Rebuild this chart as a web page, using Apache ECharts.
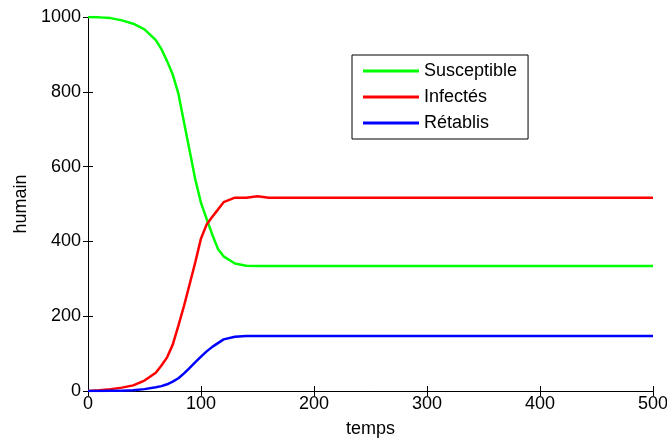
<!DOCTYPE html>
<html>
<head>
<meta charset="utf-8">
<script src="https://cdn.jsdelivr.net/npm/echarts@6/dist/echarts.min.js"></script>
<style>
  html, body { margin: 0; padding: 0; background: #fff; }
  #chart { width: 667px; height: 442px; }
</style>
</head>
<body>
<div id="chart"></div>
<script>
// temps (x) et valeurs
const temps = [0, 10, 20, 30, 40, 50, 60, 65, 70, 75, 80, 85, 90, 95, 100, 105, 110, 115, 120, 130, 140, 150, 160, 500];
const susceptible = [1000, 999, 997, 991, 982, 967, 938, 914, 882, 846, 795, 718, 642, 565, 503, 460, 418, 380, 360, 341, 335, 334, 334, 334];
const infectes = [0, 2, 5, 9, 15, 28, 49, 68, 90, 124, 175, 228, 286, 345, 408, 445, 466, 485, 505, 517, 517, 521, 517, 517];
const retablis = [0, 0, 1, 1, 2, 5, 10, 13, 18, 25, 34, 47, 62, 77, 92, 106, 118, 128, 138, 145, 147, 147, 147, 147];
const xTicks = [0, 100, 200, 300, 400, 500];
const yTicks = [0, 200, 400, 600, 800, 1000];

const font = 'Liberation Sans, Arial, Helvetica, sans-serif';
const pairs = vals => temps.map((t, i) => [t, vals[i]]);

function axisBase(extra) {
    return Object.assign({
        type: 'value',
        axisLine: {show: true, lineStyle: {color: '#000', width: 1}},
        axisTick: {show: true, inside: true, length: 5, lineStyle: {color: '#000'}},
        splitLine: {show: false},
    }, extra);
}

const chart = echarts.init(document.getElementById('chart'), null, {renderer: 'canvas'});
chart.setOption({
    animation: false,
    backgroundColor: '#fff',
    grid: {left: 88, right: 14, top: 17, bottom: 51, containLabel: false, outerBoundsMode: 'none'},
    legend: {
        orient: 'vertical',
        left: 352,
        top: 55,
        padding: [6, 11, 6, 11],
        itemGap: 6,
        itemWidth: 56,
        itemHeight: 3,
        icon: 'rect',
        borderColor: '#000',
        borderWidth: 1,
        backgroundColor: '#fff',
        textStyle: {fontFamily: font, fontSize: 18, color: '#000', lineHeight: 20},
        data: ['Susceptible', 'Infectés', 'Rétablis']
    },
    xAxis: [
        axisBase({
            min: xTicks[0], max: xTicks[xTicks.length - 1], interval: 100,
            position: 'bottom',
            name: 'temps', nameLocation: 'middle', nameGap: 29,
            nameTextStyle: {fontFamily: font, fontSize: 18, color: '#000'},
            axisLabel: {fontFamily: font, fontSize: 18, color: '#000', margin: 4, formatter: v => String(v)}
        }),
        axisBase({
            min: xTicks[0], max: xTicks[xTicks.length - 1], interval: 100,
            position: 'top', axisLabel: {show: false}
        })
    ],
    yAxis: [
        axisBase({
            min: yTicks[0], max: yTicks[yTicks.length - 1], interval: 200,
            position: 'left',
            name: 'humain', nameLocation: 'middle', nameGap: 51,
            nameTextStyle: {fontFamily: font, fontSize: 18, color: '#000'},
            axisLabel: {fontFamily: font, fontSize: 18, color: '#000', margin: 7, formatter: v => String(v)}
        }),
        axisBase({
            min: yTicks[0], max: yTicks[yTicks.length - 1], interval: 200,
            position: 'right', axisLabel: {show: false}
        })
    ],
    series: [
        {name: 'Susceptible', type: 'line', data: pairs(susceptible), showSymbol: false,
            itemStyle: {color: '#00ff00'}, lineStyle: {color: '#00ff00', width: 2.5}},
        {name: 'Infectés', type: 'line', data: pairs(infectes), showSymbol: false,
            itemStyle: {color: '#ff0000'}, lineStyle: {color: '#ff0000', width: 2.5}},
        {name: 'Rétablis', type: 'line', data: pairs(retablis), showSymbol: false,
            itemStyle: {color: '#0000ff'}, lineStyle: {color: '#0000ff', width: 2.5}}
    ]
});
</script>
</body>
</html>
